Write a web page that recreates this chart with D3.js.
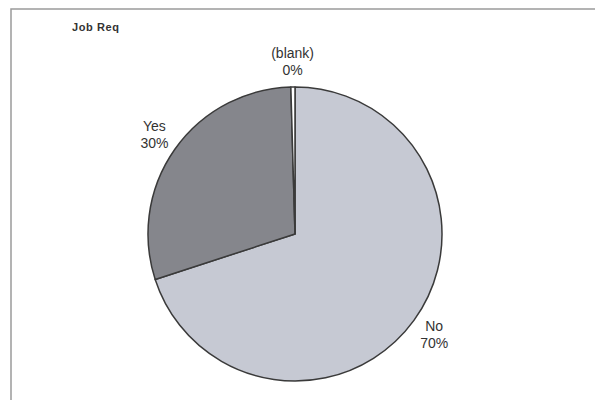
<!DOCTYPE html>
<html>
<head>
<meta charset="utf-8">
<script src="https://cdn.jsdelivr.net/npm/d3@7"></script>
<style>
  body { margin: 0; background: #fff; }
  text { font-family: "Liberation Sans", Arial, sans-serif; fill: #333; }
</style>
</head>
<body>
<div id="chart"></div>
<script>
"use strict";

// data (percent of job reqs)
var categories = ["No", "Yes", "(blank)"];
var shares = [70.0, 29.55, 0.45];
var sliceColors = ["#c6c9d3", "#85868c", "#ffffff"];
var chartTitle = "Job Req";

var W = 595, H = 400;
var cx = 295, cy = 234, radius = 147, labelRadius = 172;

var svg = d3.select("#chart").append("svg")
  .attr("width", W)
  .attr("height", H);

// chart frame (runs off the right and bottom of the scan)
svg.append("rect")
  .attr("x", 11).attr("y", 9)
  .attr("width", W).attr("height", H)
  .attr("fill", "none")
  .attr("stroke", "#9a9a9a")
  .attr("stroke-width", 1.5);

svg.append("text")
  .attr("x", 72).attr("y", 31)
  .style("font-size", "11px")
  .style("font-weight", "bold")
  .style("letter-spacing", "0.6px")
  .text(chartTitle);

var table = categories.map(function(c, i) { return { name: c, value: shares[i], color: sliceColors[i] }; });

var pie = d3.pie()
  .sort(null)
  .value(function(d) { return d.value; });

var arc = d3.arc().innerRadius(0).outerRadius(radius);
var labelArc = d3.arc().innerRadius(labelRadius).outerRadius(labelRadius);

var g = svg.append("g").attr("transform", "translate(" + cx + "," + cy + ")");

var arcs = pie(table);

g.selectAll("path")
  .data(arcs)
  .enter().append("path")
  .attr("d", arc)
  .attr("fill", function(d) { return d.data.color; })
  .attr("stroke", "#3a3a3a")
  .attr("stroke-width", 1.5)
  .attr("stroke-linejoin", "round");

var total = d3.sum(shares);

// two-line labels: name, then rounded percent
var labels = g.selectAll("text.lbl")
  .data(arcs)
  .enter().append("text")
  .attr("class", "lbl")
  .attr("text-anchor", "middle")
  .style("font-size", "14px")
  .attr("transform", function(d) { return "translate(" + labelArc.centroid(d) + ")"; });

labels.append("tspan")
  .attr("x", 0).attr("y", -4)
  .text(function(d) { return d.data.name; });

labels.append("tspan")
  .attr("x", 0).attr("y", 13)
  .text(function(d) { return Math.round(d.data.value / total * 100) + "%"; });
</script>
</body>
</html>
